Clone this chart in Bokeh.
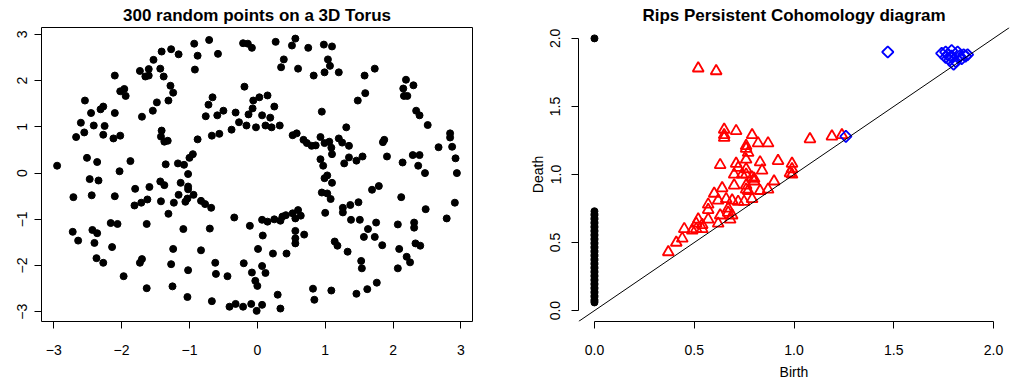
import math
from bokeh.plotting import figure
from bokeh.layouts import row
from bokeh.models import Range1d, Slope, FixedTicker, PrintfTickFormatter
from bokeh.embed import file_html
from bokeh.resources import INLINE

# ---------------- data: 300 random points on a torus (projected x, y) ----------------
torus_x = [
    -1.27, -1.41, -1.16, -1.53, -1.73, -1.60, -1.43, -1.65, -1.60, -1.38,
    -2.10, -1.28, -1.24, -2.02, -1.96, -1.94, -2.54, -1.48, -1.31, -2.27,
    -2.31, -2.45, -2.10, -1.70, -1.54, -2.60, -2.41, -2.25, -1.41, -1.42,
    -1.37, -1.32, -2.55, -2.67, -2.27, -2.12, -2.02, -2.51, -2.36, -1.87,
    -2.95, -2.03, -1.35, -1.17, -1.08, -1.00, -1.02,
    -0.93, -0.71, -0.88, -0.58, -0.92, -0.21, -0.14, -0.08, 0.27, 0.56,
    0.51, 0.75, 0.98, 1.10, 0.39, 0.35, 0.60, 1.04, 1.07, 0.83,
    0.99, -0.19, -0.66, -0.72, -0.06, 0.03, 0.15, -0.07, 0.25, -0.76,
    -0.59, -0.50, -0.32, -0.13, 0.07, 0.19, -0.27, -0.16, -0.02, 0.12,
    0.21, 0.33, 0.95, -0.88, -0.67, -0.56, -0.38, 0.52, 0.58, 0.68,
    0.73, 0.80, 0.86, 0.93, 0.99, 1.06, 1.09, 1.10, 0.93, 0.97,
    1.03, -0.95,
    1.20, 1.73, 1.58, 2.19, 2.15, 2.30, 2.16, 2.21, 1.59, 1.48,
    2.34, 2.39, 2.51, 1.31, 1.20, 1.25, 1.35, 1.87, 1.85, 2.84,
    2.84, 2.67, 2.87, 2.92, 1.35, 1.28, 1.46, 1.55, 1.91, 2.14,
    2.29, 2.39, 2.37, 2.47, 2.94,
    -2.47, -2.34, -2.71, -2.44, -2.10, -1.80, -1.59, -1.43, -1.37, -1.13,
    -1.02, -1.02, -1.81, -1.71, -1.62, -1.42, -1.23, -1.16, -1.06, -1.03,
    -1.31, -2.16, -2.06, -1.63, -2.72, -2.43, -2.36, -2.64, -2.40, -2.14,
    -1.09, -1.24, -2.37, -2.27, -1.70, -1.73, -1.27, -1.97, -1.63, -1.25,
    -1.02, -1.03,
    -0.94, -0.83, -0.77, -0.68, -0.34, -0.70, -0.11, 0.07, 0.15, 0.25,
    0.34, 0.37, 0.42, 0.52, 0.60, 0.64, 0.56, 0.56, 0.56, 0.56,
    0.69, 0.08, 0.01, 0.23, 0.43, -0.83, -0.62, -0.61, -0.44, -0.20,
    -0.08, 0.07, 0.12, -0.03, 0.00, -0.67, -0.41, -0.32, -0.21, -0.09,
    -0.01, 0.07, 0.30, 0.34, 0.99, 1.10, 0.95, 1.03, 1.08, 1.00,
    1.14, 0.82, 0.84, 1.09,
    1.69, 1.79, 2.12, 2.48, 2.91, 2.79, 1.26, 1.26, 1.37, 1.49,
    1.38, 1.51, 1.75, 1.63, 1.57, 1.73, 1.84, 2.07, 2.31, 2.31,
    2.33, 2.40, 1.18, 1.33, 2.09, 2.20, 2.25, 1.53, 1.54, 2.07,
    1.76, 1.62, 1.46,
]
torus_y = [
    2.68, 2.63, 2.57, 2.45, 2.21, 2.25, 2.26, 2.09, 2.11, 2.09,
    2.11, 1.89, 1.74, 1.77, 1.82, 1.67, 1.57, 1.53, 1.57, 1.44,
    1.38, 1.30, 1.30, 1.22, 1.35, 1.09, 1.03, 1.02, 0.92, 0.79,
    0.68, 0.70, 0.88, 0.78, 0.83, 0.75, 0.81, 0.33, 0.24, 0.26,
    0.16, 0.04, 0.19, 0.21, 0.18, 0.33, -0.02,
    2.80, 2.88, 2.54, 2.58, 2.24, 2.81, 2.80, 2.71, 2.84, 2.91,
    2.76, 2.71, 2.78, 2.74, 2.46, 2.29, 2.26, 2.46, 2.32, 2.11,
    2.18, 1.87, 1.64, 1.48, 1.57, 1.64, 1.68, 1.40, 1.44, 1.23,
    1.25, 1.35, 1.31, 1.27, 1.25, 1.20, 1.10, 1.03, 0.99, 1.03,
    0.99, 1.03, 1.33, 0.73, 0.81, 0.85, 0.94, 0.82, 0.86, 0.72,
    0.65, 0.59, 0.60, 0.78, 0.65, 0.68, 0.55, 0.41, 0.30, 0.16,
    -0.05, 0.41,
    2.18, 2.26, 2.11, 2.02, 1.83, 1.90, 1.67, 1.67, 1.73, 1.57,
    1.35, 1.25, 1.04, 0.99, 0.75, 0.66, 0.59, 0.72, 0.67, 0.86,
    0.77, 0.56, 0.57, 0.32, 0.34, 0.21, 0.27, 0.36, 0.36, 0.23,
    0.39, 0.39, 0.16, 0.00, 0.00,
    -0.13, -0.16, -0.52, -0.48, -0.50, -0.34, -0.30, -0.18, -0.26, -0.21,
    -0.29, -0.35, -0.70, -0.64, -0.57, -0.61, -0.64, -0.47, -0.62, -0.55,
    -0.88, -1.08, -1.10, -1.10, -1.27, -1.23, -1.30, -1.46, -1.51, -1.60,
    -1.21, -1.64, -1.84, -1.94, -1.86, -1.94, -1.97, -2.23, -2.49, -2.45,
    -2.10, -2.68,
    -0.47, -0.60, -0.67, -0.75, -0.96, -1.20, -1.14, -1.01, -1.05, -1.00,
    -1.03, -0.94, -0.91, -0.87, -0.80, -0.92, -0.98, -1.25, -1.41, -1.52,
    -1.33, -1.35, -1.64, -1.74, -1.74, -1.67, -1.94, -2.18, -2.23, -1.95,
    -2.15, -2.01, -2.16, -2.33, -2.44, -2.77, -2.89, -2.83, -2.89, -2.83,
    -2.98, -2.85, -2.63, -2.93, -0.11, -0.21, -0.42, -0.44, -0.56, -0.86,
    -1.48, -2.50, -2.74, -2.54,
    -0.36, -0.28, -0.52, -0.78, -0.64, -0.98, -0.75, -0.85, -0.69, -0.63,
    -1.01, -1.01, -1.07, -1.21, -1.38, -1.38, -1.56, -1.11, -1.07, -1.18,
    -1.52, -1.57, -1.57, -1.70, -1.64, -1.81, -1.93, -1.90, -2.06, -2.06,
    -2.37, -2.51, -2.61,
]
torus_ticks = [-3, -2, -1, 0, 1, 2, 3]

# ---------------- data: persistence diagram ----------------
h0_death = [
    0.06, 0.07, 0.08, 0.10, 0.11, 0.13, 0.14, 0.16, 0.17, 0.19,
    0.20, 0.22, 0.23, 0.25, 0.26, 0.28, 0.29, 0.31, 0.32, 0.34,
    0.35, 0.37, 0.38, 0.40, 0.41, 0.43, 0.44, 0.46, 0.47, 0.49,
    0.50, 0.52, 0.53, 0.55, 0.56, 0.58, 0.59, 0.61, 0.62, 0.64,
    0.65, 0.67, 0.68, 0.70, 0.71, 0.73, 2.00,
]
h0_birth = [0.0] * len(h0_death)

h1_birth = [
    0.52, 0.61, 0.65, 0.65, 0.65, 0.71, 0.79, 0.76, 0.76, 0.77,
    0.82, 0.87, 0.63, 0.71, 0.76, 0.83, 0.92, 0.99, 0.72, 0.70,
    0.76, 0.74, 0.76, 0.84, 0.79, 0.80, 0.80, 0.98, 0.99, 0.70,
    0.76, 0.76, 0.77, 0.90, 0.87, 0.83, 0.64, 0.60, 0.62, 0.66,
    0.69, 0.72, 0.75, 0.79, 0.57, 0.57, 0.63, 0.67, 0.67, 0.69,
    0.68, 0.52, 0.51, 0.54, 0.57, 0.62, 0.45, 0.49, 0.51, 0.54,
    0.44, 0.41, 0.37, 1.08, 1.19, 1.24, 0.99,
]
h1_death = [
    1.78, 1.76, 1.33, 1.29, 1.27, 1.32, 1.29, 1.21, 1.19, 1.16,
    1.23, 1.23, 1.07, 1.08, 1.11, 1.09, 1.10, 1.08, 1.05, 1.00,
    1.04, 1.00, 1.00, 1.03, 0.98, 0.97, 0.95, 1.01, 1.00, 0.92,
    0.92, 0.89, 0.88, 0.95, 0.89, 0.88, 0.90, 0.86, 0.81, 0.82,
    0.81, 0.80, 0.80, 0.82, 0.78, 0.74, 0.70, 0.75, 0.72, 0.70,
    0.67, 0.67, 0.64, 0.63, 0.67, 0.64, 0.60, 0.59, 0.60, 0.60,
    0.53, 0.50, 0.43, 1.26, 1.28, 1.29, 1.04,
]

h2_birth = [1.26, 1.47, 1.74, 1.76, 1.79, 1.82, 1.85, 1.87, 1.83, 1.79,
            1.76, 1.78, 1.81, 1.84, 1.80, 1.86, 1.77]
h2_death = [1.28, 1.90, 1.89, 1.90, 1.91, 1.90, 1.88, 1.88, 1.87, 1.87,
            1.86, 1.84, 1.83, 1.85, 1.81, 1.87, 1.88]

diag_ticks = [0.0, 0.5, 1.0, 1.5, 2.0]

FONT = "Liberation Sans"


def style(p, ticks_x, ticks_y, fmt=None, x_standoff=16, y_standoff=7):
    p.title.text_font = FONT
    p.title.text_font_size = "17px"
    p.title.text_font_style = "bold"
    p.title.text_color = "black"
    p.title.align = "center"
    p.title.standoff = 6
    p.title.offset = 0
    p.xgrid.visible = False
    p.ygrid.visible = False
    for ax, ticks, so in ((p.xaxis[0], ticks_x, x_standoff),
                          (p.yaxis[0], ticks_y, y_standoff)):
        ax.ticker = FixedTicker(ticks=ticks)
        ax.bounds = (ticks[0], ticks[-1])
        ax.major_tick_out = 7
        ax.major_tick_in = 0
        ax.minor_tick_out = 0
        ax.minor_tick_in = 0
        ax.axis_line_color = "black"
        ax.major_tick_line_color = "black"
        ax.major_label_text_color = "black"
        ax.major_label_text_font = FONT
        ax.major_label_text_font_size = "14px"
        ax.axis_label_text_font = FONT
        ax.axis_label_text_font_size = "14px"
        ax.axis_label_text_font_style = "normal"
        ax.axis_label_text_color = "black"
        ax.major_label_standoff = so
        if fmt is not None:
            ax.formatter = PrintfTickFormatter(format=fmt)
    p.yaxis[0].major_label_orientation = "vertical"


# ---------------- left: torus scatter ----------------
p1 = figure(frame_width=431, frame_height=294,
            min_border_left=41, min_border_right=53,
            min_border_top=27, min_border_bottom=59,
            x_range=Range1d(-3.18, 3.17), y_range=Range1d(-3.21, 3.15),
            title="300 random points on a 3D Torus",
            output_backend="svg", toolbar_location=None)
p1.scatter(torus_x, torus_y, size=7, color="black", marker="circle")
style(p1, torus_ticks, torus_ticks)
p1.outline_line_color = "black"
p1.outline_line_alpha = 1.0
p1.outline_line_width = 1

# ---------------- right: persistence diagram ----------------
p2 = figure(frame_width=431, frame_height=294,
            min_border_left=53, min_border_right=2,
            min_border_top=27, min_border_bottom=59,
            x_range=Range1d(-0.08, 2.08), y_range=Range1d(-0.08, 2.08),
            title="Rips Persistent Cohomology diagram",
            x_axis_label="Birth", y_axis_label="Death",
            output_backend="svg", toolbar_location=None)
p2.add_layout(Slope(gradient=1, y_intercept=0, line_color="black", line_width=1))
p2.scatter(h0_birth, h0_death, size=7, color="black", marker="circle")
p2.scatter(h1_birth, h1_death, size=11, marker="triangle",
           fill_color=None, line_color="red", line_width=1.8)
p2.scatter(h2_birth, h2_death, size=8, marker="square", angle=math.pi / 4,
           fill_color=None, line_color="blue", line_width=1.8)
style(p2, diag_ticks, diag_ticks, fmt="%.1f", y_standoff=11)
p2.outline_line_color = None
p2.xaxis[0].axis_label_standoff = 6
p2.yaxis[0].axis_label_standoff = 2

layout = row(p1, p2)
open("out.html", "w").write(file_html(layout, INLINE))
